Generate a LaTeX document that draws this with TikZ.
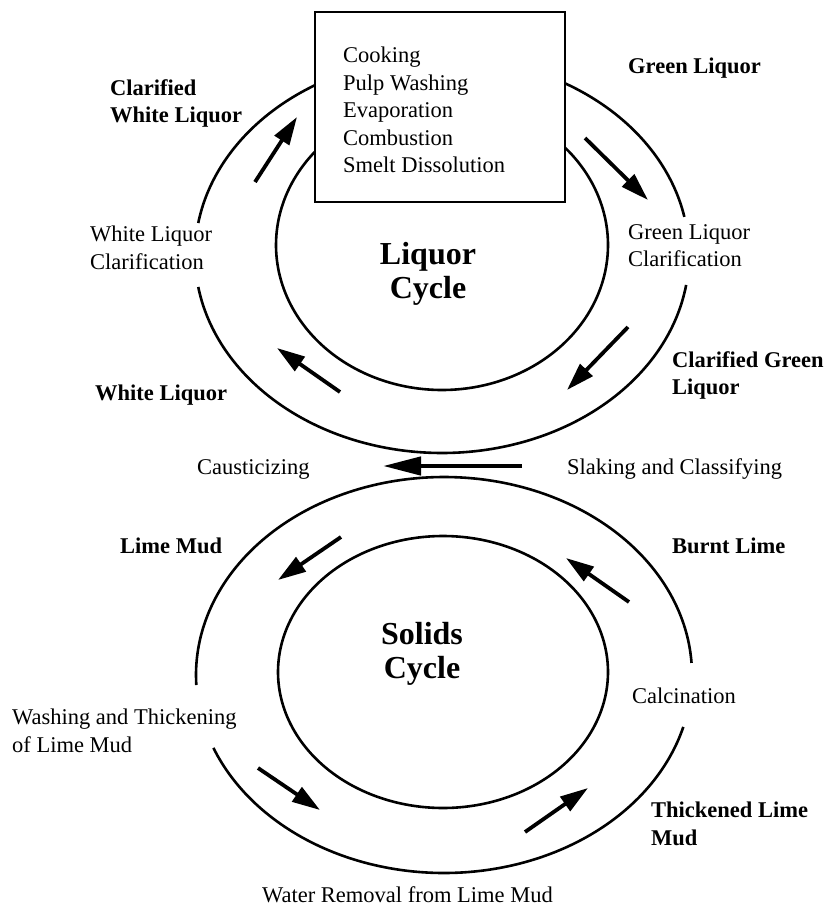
\documentclass[tikz,border=0pt]{standalone}
\usepackage{fontspec}
\setmainfont{Liberation Serif}
\usetikzlibrary{arrows.meta}
\tikzset{
  ring/.style={line width=2.6pt},
  lbl/.style={inner sep=0pt, font=\fontsize{22.5}{27.5}\selectfont, align=left},
  blbl/.style={inner sep=0pt, font=\fontsize{22.5}{27.5}\selectfont\bfseries, align=left},
  big/.style={inner sep=0pt, font=\fontsize{32}{34}\selectfont\bfseries, align=center},
  flow/.style={line width=3.8pt, -{Triangle[length=28pt,width=17pt]}},
  procbox/.style={draw, line width=2.8pt, fill=white, minimum width=250pt, minimum height=190pt, inner sep=0pt}
}
\begin{document}
\begin{tikzpicture}[x=1pt,y=-1pt]
\useasboundingbox (0,0) rectangle (830,918);
% liquor cycle outer ellipse (centre 442,255)
\draw[ring] plot[domain=8.7:170.7, samples=120, smooth] ({442+247*cos(\x)},{255+198*sin(\x)});
\draw[ring] plot[domain=189.3:239.1, samples=40, smooth] ({442+247*cos(\x)},{255+198*sin(\x)});
\draw[ring] plot[domain=299.9:348.9, samples=40, smooth] ({442+247*cos(\x)},{255+198*sin(\x)});
% liquor cycle inner ellipse (centre 442,245)
\draw[ring] plot[domain=-42.2:220.1, samples=160, smooth] ({442+166*cos(\x)},{245+145*sin(\x)});
% solids cycle outer ellipse (centre 444,675)
\draw[ring] plot[domain=15.2:158.4, samples=120, smooth] ({444+248*cos(\x)},{675+198*sin(\x)});
\draw[ring] plot[domain=177.1:356.5, samples=140, smooth] ({444+248*cos(\x)},{675+198*sin(\x)});
% solids cycle inner ellipse
\draw[ring] plot[domain=0:360, samples=200, smooth] ({443+165*cos(\x)},{672+136*sin(\x)});

% process box
\node[procbox] (box) at (440,107) {};
\node[lbl, anchor=north west] (boxtext) at (343,47) {Cooking\\Pulp Washing\\Evaporation\\Combustion\\Smelt Dissolution};

% arrows
\coordinate (a1s) at (255,182); \coordinate (a1e) at (297,117);
\coordinate (a2s) at (585,138); \coordinate (a2e) at (648,200);
\coordinate (a3s) at (628,327); \coordinate (a3e) at (567,390);
\coordinate (a4s) at (340,392); \coordinate (a4e) at (277,348);
\coordinate (ms) at (522,466);  \coordinate (me) at (383,466);
\coordinate (a5s) at (341,537); \coordinate (a5e) at (278,580);
\coordinate (a6s) at (629,602); \coordinate (a6e) at (566,558);
\coordinate (a7s) at (258,768); \coordinate (a7e) at (320,810);
\coordinate (a8s) at (525,832); \coordinate (a8e) at (588,788);
\draw[flow] (a1s) -- (a1e);
\draw[flow] (a2s) -- (a2e);
\draw[flow] (a3s) -- (a3e);
\draw[flow] (a4s) -- (a4e);
\draw[line width=4.5pt, -{Triangle[length=38pt,width=18pt]}] (ms) -- (me);
\draw[flow] (a5s) -- (a5e);
\draw[flow] (a6s) -- (a6e);
\draw[flow] (a7s) -- (a7e);
\draw[flow] (a8s) -- (a8e);

% labels
\node[blbl, anchor=north west] (cwl) at (110,79) {Clarified\\White Liquor};
\node[blbl, anchor=base west] (gl) at (628,73) {Green Liquor};
\node[lbl, anchor=north west] (wlc) at (90,226) {White Liquor\\Clarification};
\node[lbl, anchor=north west] (glc) at (628,224) {Green Liquor\\Clarification};
\node[big] (lc) at (428,274) {Liquor\\Cycle};
\node[blbl, anchor=north west] (cgl) at (672,351) {Clarified Green\\Liquor};
\node[blbl, anchor=base west] (wl) at (95,400) {White Liquor};
\node[lbl, anchor=base west] (caus) at (197,474) {Causticizing};
\node[lbl, anchor=base west] (slak) at (567,474) {Slaking and Classifying};
\node[blbl, anchor=base west] (lm) at (120,553) {Lime Mud};
\node[blbl, anchor=base west] (bl) at (672,553) {Burnt Lime};
\node[big] (sc) at (422,654) {Solids\\Cycle};
\node[lbl, anchor=base west] (calc) at (632,703) {Calcination};
\node[lbl, anchor=north west] (wash) at (12,709) {Washing and Thickening\\of Lime Mud};
\node[blbl, anchor=north west] (tlm) at (651,802) {Thickened Lime\\Mud};
\node[lbl, anchor=base west] (wr) at (262,902) {Water Removal from Lime Mud};
\end{tikzpicture}
\end{document}
